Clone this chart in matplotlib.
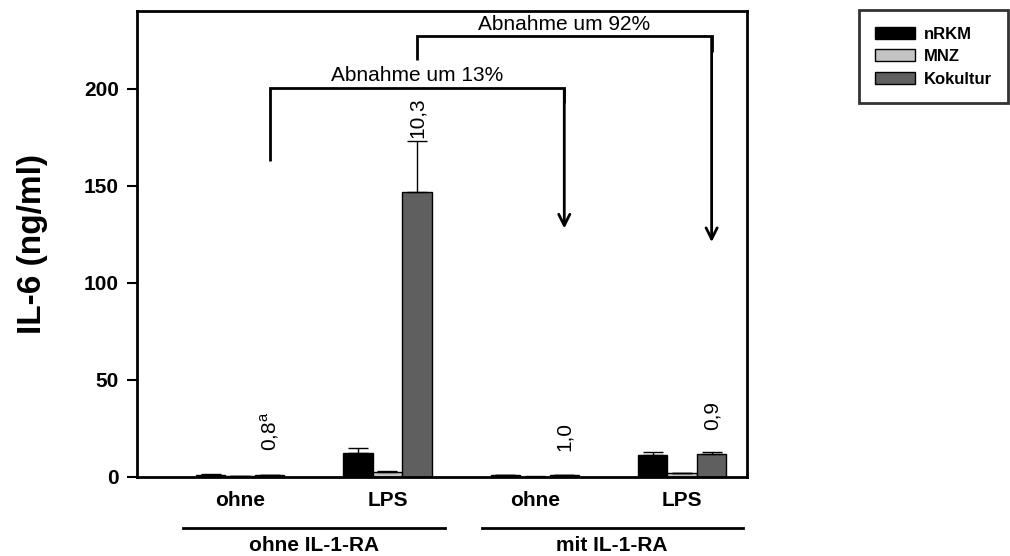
import numpy as np
import matplotlib
matplotlib.use("Agg")
import matplotlib.pyplot as plt
from matplotlib.patches import Patch
from matplotlib.lines import Line2D

plt.rcParams['font.family'] = ['Liberation Sans', 'DejaVu Sans']
plt.rcParams['mathtext.fontset'] = 'custom'
plt.rcParams['mathtext.rm'] = 'Liberation Sans'

# --- data -------------------------------------------------------------
conditions = ["ohne", "LPS", "ohne", "LPS"]
treatments = ["ohne IL-1-RA", "mit IL-1-RA"]
series = ["nRKM", "MNZ", "Kokultur"]

nrkm = [1.0, 12.2, 0.8, 11.2]
nrkm_err = [0.3, 2.6, 0.2, 1.7]
mnz = [0.3, 2.8, 0.2, 1.8]
mnz_err = [0.1, 0.3, 0.1, 0.2]
kokultur = [0.9, 147.0, 0.8, 11.8]
kokultur_err = [0.2, 26.0, 0.2, 1.1]

# ratios printed above the co-culture bars
ratio_labels = ["0,8$^{\\mathrm{a}}$", "10,3", "1,0", "0,9"]
ratio_offsets = [17, 2, 17, 16]   # points above bar/error top

# decrease brackets: (from group, to group, text)
decreases = [(0, 2, "Abnahme um 13%"), (1, 3, "Abnahme um 92%")]

yticks = [0, 50, 100, 150, 200]
colors = ["#000000", "#c4c4c4", "#5f5f5f"]

# --- figure -----------------------------------------------------------
fig = plt.figure(figsize=(10.10, 5.56), dpi=100)
ax = fig.add_axes([0.1356, 0.1421, 0.604, 0.838])

x = np.arange(len(conditions))
w = 0.2
offsets = [-w, 0.0, w]
vals = [nrkm, mnz, kokultur]
errs = [nrkm_err, mnz_err, kokultur_err]

for off, v, e, c, name in zip(offsets, vals, errs, colors, series):
    ax.bar(x + off, v, width=w, color=c, edgecolor="black", linewidth=1.0,
           label=name, zorder=2)
    ax.errorbar(x + off, v, yerr=[np.zeros(len(e)), e], fmt="none",
                ecolor="black", elinewidth=1.0, capsize=7, capthick=1.0,
                zorder=3)

# ratio labels (rotated) above co-culture bars
for xi, v, e, lab, dy in zip(x, kokultur, kokultur_err, ratio_labels, ratio_offsets):
    ax.annotate(lab, (xi + w, v + e), xytext=(0, dy), textcoords="offset points",
                rotation=90, ha="center", va="bottom", fontsize=15)

# decrease brackets with arrows
bracket_specs = [
    # (left bottom y, top y, arrow tip y)
    (163, 200.5, 128),
    (215, 227, 121),
]
for (g0, g1, txt), (yb, yt, ytip) in zip(decreases, bracket_specs):
    x0 = x[g0] + w
    x1 = x[g1] + w
    ax.plot([x0, x0, x1, x1], [yb, yt, yt, yt - 8], color="black", lw=2.0,
            solid_capstyle="butt", solid_joinstyle="miter", zorder=4, clip_on=False)
    ax.annotate("", xy=(x1, ytip), xytext=(x1, yt - 1),
                arrowprops=dict(arrowstyle="->,head_length=0.8,head_width=0.4",
                                color="black", lw=2.0, shrinkA=0, shrinkB=0))
    ax.text((x0 + x1) / 2, yt + 1.2, txt, ha="center", va="bottom", fontsize=15)

# axes styling
ax.set_xlim(-0.70, 3.44)
ax.set_ylim(0, 240)
ax.set_yticks(yticks)
ax.set_yticklabels([str(t) for t in yticks], fontsize=15, fontweight="bold")
ax.tick_params(axis="y", direction="out", length=7, width=1.5, pad=6)
ax.set_xticks(x)
ax.set_xticklabels(conditions, fontsize=15, fontweight="bold")
ax.tick_params(axis="x", length=0, pad=10)
for sp in ax.spines.values():
    sp.set_linewidth(2.0)
ax.set_ylabel("IL-6 (ng/ml)", fontsize=24, fontweight="bold", labelpad=26)

# treatment grouping lines and labels below the axis
trans = ax.get_xaxis_transform()
group_spans = [(-0.387, 1.39), (1.64, 3.41)]
for (a, b), lab in zip(group_spans, treatments):
    ax.add_line(Line2D([a, b], [-0.109, -0.109], transform=trans, color="black",
                       lw=2.0, clip_on=False))
    ax.text((a + b) / 2, -0.126, lab, transform=trans, ha="center", va="top",
            fontsize=15, fontweight="bold")

# legend
handles = [Patch(facecolor=c, edgecolor="black", linewidth=1.0, label=n)
           for c, n in zip(colors, series)]
leg = fig.legend(handles=handles, loc="upper left", bbox_to_anchor=(0.850, 0.982),
                 frameon=True, fancybox=False, edgecolor="black",
                 prop={"weight": "bold", "size": 12},
                 handlelength=2.4, handleheight=0.75, handletextpad=0.5,
                 labelspacing=0.45, borderpad=1.0, borderaxespad=0)
leg.get_frame().set_linewidth(2.0)

fig.savefig("out.png", dpi=100)
